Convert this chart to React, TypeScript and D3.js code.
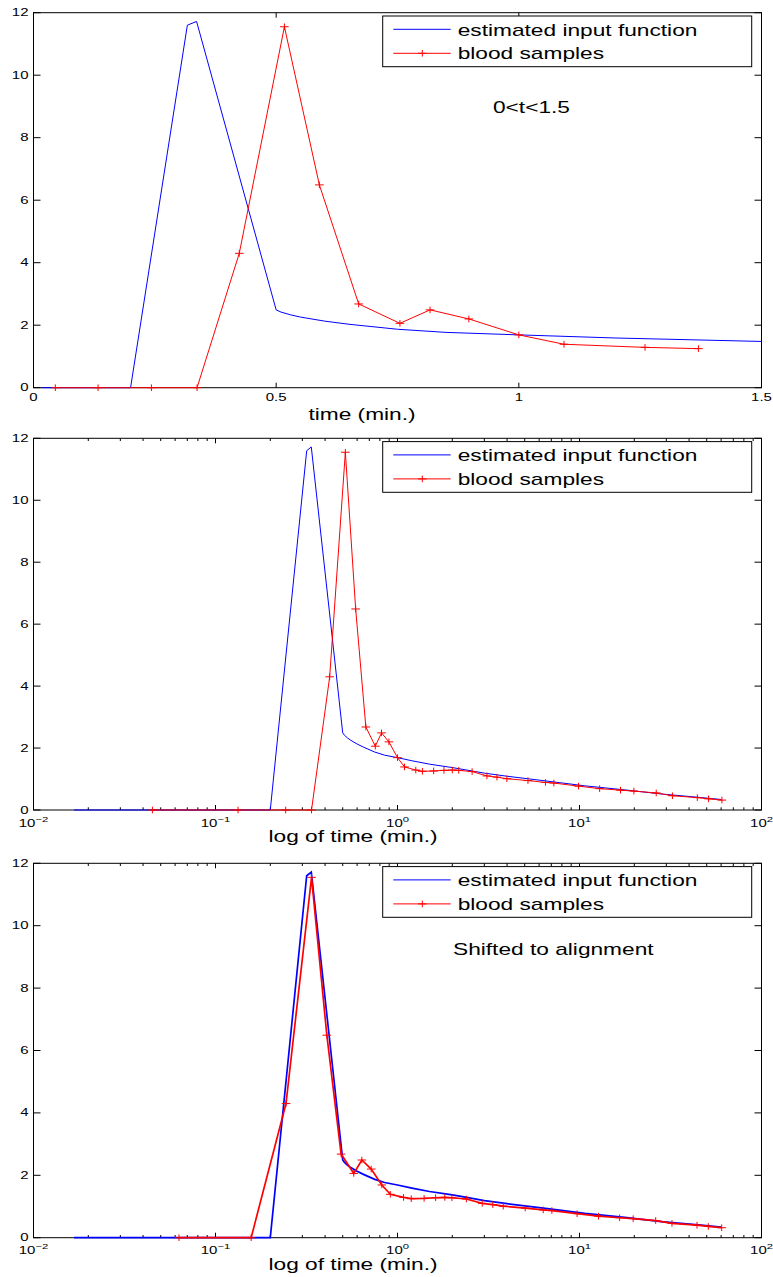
import * as d3 from "d3";

// blood samples (minutes, concentration)
const sampleTimes = [
  0.045, 0.133, 0.243, 0.337, 0.424, 0.517, 0.589, 0.67, 0.755, 0.817, 0.897,
  1.0, 1.093, 1.26, 1.37, 1.58, 1.8, 2.0, 2.17, 2.57, 3.1, 3.52, 3.99, 5.21,
  6.5, 7.23, 9.88, 12.9, 16.8, 19.9, 26.4, 32.4, 44.4, 51.2, 60.6,
];
const sampleValues = [
  0, 0, 0, 0, 4.3, 11.55, 6.49, 2.68, 2.06, 2.49, 2.2, 1.69, 1.39, 1.29, 1.25,
  1.26, 1.28, 1.29, 1.28, 1.24, 1.1, 1.06, 1.01, 0.95, 0.89, 0.87, 0.77, 0.69,
  0.64, 0.61, 0.55, 0.46, 0.4, 0.36, 0.32,
];

// estimated input function
const inputTimes = [
  0.0167, 0.2, 0.317, 0.336, 0.5, 0.51, 0.53, 0.55, 0.6, 0.65, 0.75, 0.85, 1.0,
  1.2, 1.5, 2.0, 2.4, 3.0, 4.0, 6.5, 10.7, 17.7, 29.0, 45.0, 60.0,
];
const inputValues = [
  0, 0, 11.6, 11.72, 2.49, 2.42, 2.33, 2.26, 2.13, 2.03, 1.87, 1.77, 1.69,
  1.59, 1.48, 1.37, 1.29, 1.19, 1.09, 0.94, 0.78, 0.65, 0.51, 0.41, 0.34,
];

const shiftMinutes = 0.18;

const yTicks = [0, 2, 4, 6, 8, 10, 12];
const linearTicks = [0, 0.5, 1, 1.5];
const linearTickLabels = ["0", "0.5", "1", "1.5"];
const logDecades = [-2, -1, 0, 1, 2];
const legendLabels = ["estimated input function", "blood samples"];

const FONT = "'Liberation Sans', Arial, Helvetica, sans-serif";
const SX = 1.42; // the figure is stretched sideways
const TSX = 1.5;
const LEFT = 33.5;
const RIGHT = 761.5;
const BLUE = "#0000ff";
const RED = "#ff0000";

type Pt = [number, number];

function Panel({ top, bottom, log, shift, label, labelX, note, noteX, noteY, lw, id }: any) {
  const x: any = log
    ? d3.scaleLog().domain([0.01, 100]).range([LEFT, RIGHT])
    : d3.scaleLinear().domain([0, 1.5]).range([LEFT, RIGHT]);
  const y = d3.scaleLinear().domain([0, 12]).range([bottom, top]);
  const [x0, x1] = x.domain();

  const inputPts: Pt[] = inputTimes.map((t, i) => [t, inputValues[i]] as Pt);
  // the linear plot only shows the samples of its own window
  const samplePts: Pt[] = sampleTimes
    .map((t, i) => [t - shift, sampleValues[i]] as Pt)
    .filter((d) => (log ? d[0] > 0 : d[0] >= x0 && d[0] <= x1));

  const line = d3
    .line<Pt>()
    .x((d) => x(d[0]))
    .y((d) => y(d[1]));

  const plus = (cx: number, cy: number) =>
    `M${cx - 4.3},${cy}h8.6M${cx},${cy - 3.3}v6.6`;

  const minor: number[] = [];
  if (log) {
    logDecades.slice(0, -1).forEach((e) => {
      for (let k = 2; k <= 9; k++) minor.push(k * Math.pow(10, e));
    });
  }
  const major = log ? logDecades.map((e) => Math.pow(10, e)) : linearTicks;

  const lx = 382.7;
  const ly = top + 3.3;

  return (
    <g>
      <defs>
        <clipPath id={id}>
          <rect x={LEFT} y={top - 10} width={RIGHT - LEFT} height={bottom - top + 20} />
        </clipPath>
      </defs>
      <rect x={LEFT} y={top} width={RIGHT - LEFT} height={bottom - top} fill="#fff" stroke="#000" strokeWidth={1} />
      {yTicks.map((v) => (
        <g key={"y" + v}>
          <line x1={LEFT} x2={LEFT + 7} y1={y(v)} y2={y(v)} stroke="#000" />
          <line x1={RIGHT - 7} x2={RIGHT} y1={y(v)} y2={y(v)} stroke="#000" />
          <text
            transform={`translate(${LEFT - 5},${y(v) + 3.5}) scale(${TSX},1)`}
            textAnchor="end"
            fontSize={10}
            fontFamily={FONT}
          >
            {v}
          </text>
        </g>
      ))}
      {major.map((v: number, i: number) => (
        <g key={"x" + i}>
          <line x1={x(v)} x2={x(v)} y1={bottom} y2={bottom - 5} stroke="#000" />
          <line x1={x(v)} x2={x(v)} y1={top} y2={top + 5} stroke="#000" />
          {log ? (
            <text
              transform={`translate(${x(v)},${bottom + 16.5}) scale(${TSX},1)`}
              textAnchor="middle"
              fontSize={10}
              fontFamily={FONT}
            >
              10
              <tspan dy={-5} fontSize={7.5}>
                {logDecades[i] < 0 ? "\u2212" + Math.abs(logDecades[i]) : logDecades[i]}
              </tspan>
            </text>
          ) : (
            <text
              transform={`translate(${x(v)},${bottom + 13}) scale(${TSX},1)`}
              textAnchor="middle"
              fontSize={10}
              fontFamily={FONT}
            >
              {linearTickLabels[i]}
            </text>
          )}
        </g>
      ))}
      {minor.map((v) => (
        <g key={"m" + v}>
          <line x1={x(v)} x2={x(v)} y1={bottom} y2={bottom - 2.7} stroke="#000" />
          <line x1={x(v)} x2={x(v)} y1={top} y2={top + 2.7} stroke="#000" />
        </g>
      ))}
      <g clipPath={`url(#${id})`}>
        <path d={line(inputPts) || ""} fill="none" stroke={BLUE} strokeWidth={lw} />
        <path d={line(samplePts) || ""} fill="none" stroke={RED} strokeWidth={lw} />
      </g>
      {samplePts.map((d, i) => (
        <path key={"p" + i} d={plus(x(d[0]), y(d[1]))} stroke={RED} strokeWidth={1} fill="none" />
      ))}
      {note && (
        <text transform={`translate(${noteX},${noteY}) scale(${SX},1)`} fontSize={16} fontFamily={FONT}>
          {note}
        </text>
      )}
      <rect x={lx} y={ly} width={751.7 - lx} height={50.7} fill="#fff" stroke="#000" strokeWidth={1} />
      <line x1={393.3} x2={450.7} y1={ly + 13.3} y2={ly + 13.3} stroke={BLUE} strokeWidth={1} />
      <line x1={393.3} x2={450.7} y1={ly + 37.3} y2={ly + 37.3} stroke={RED} strokeWidth={1} />
      <path d={plus(422.3, ly + 37.3)} stroke={RED} strokeWidth={1} fill="none" />
      {legendLabels.map((s, i) => (
        <text
          key={s}
          transform={`translate(457.7,${ly + 19.7 + i * 23.6}) scale(${SX},1)`}
          fontSize={16}
          fontFamily={FONT}
        >
          {s}
        </text>
      ))}
      <text
        transform={`translate(${labelX},${bottom + 32.3}) scale(${SX},1)`}
        textAnchor="middle"
        fontSize={16}
        fontFamily={FONT}
      >
        {label}
      </text>
    </g>
  );
}

export default function App() {
  return (
    <svg
      width={773}
      height={1277}
      style={{ position: "absolute", left: 0, top: 0, display: "block", background: "#fff" }}
    >
      <Panel id="c1" top={12.7} bottom={387.7} log={false} shift={0} label="time (min.)" labelX={362}
        note="0<t<1.5" noteX={493} noteY={112.7} lw={1} />
      <Panel id="c2" top={438.3} bottom={810} log={true} shift={0} label="log of time (min.)" labelX={353}
        lw={1} />
      <Panel id="c3" top={863.3} bottom={1237.7} log={true} shift={shiftMinutes} label="log of time (min.)"
        labelX={353} note="Shifted to alignment" noteX={453} noteY={955} lw={1.7} />
    </svg>
  );
}
